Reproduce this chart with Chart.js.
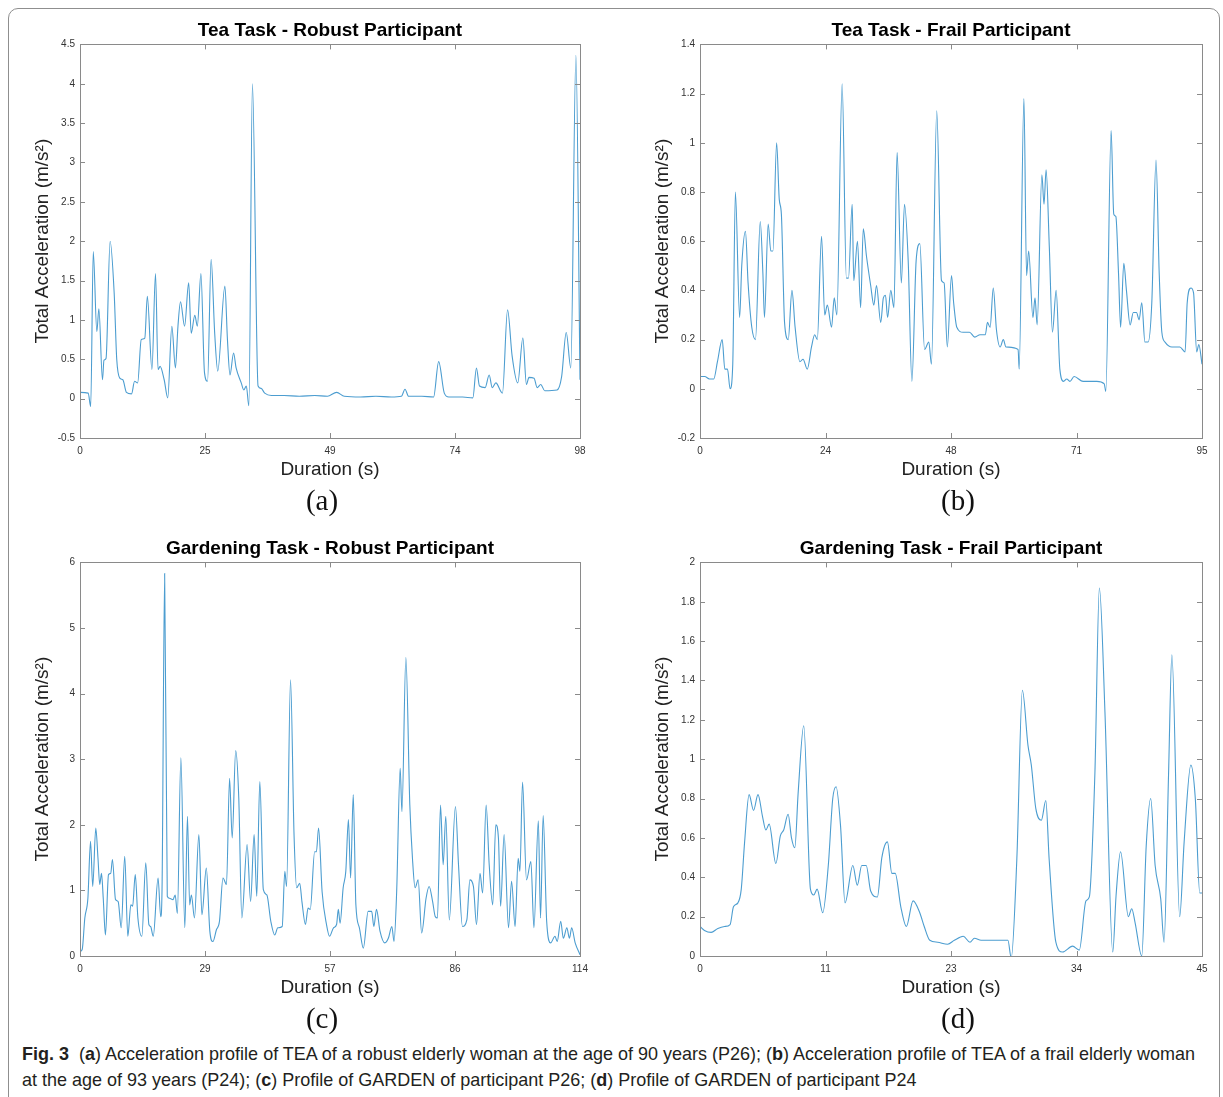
<!DOCTYPE html>
<html>
<head>
<meta charset="utf-8">
<script src="https://cdn.jsdelivr.net/npm/chart.js@4.4.1/dist/chart.umd.min.js"></script>
<style>
body{margin:0;background:#fff;width:1223px;height:1097px;position:relative;overflow:hidden;font-family:"Liberation Sans",Arial,sans-serif}
#frame{position:absolute;left:8px;top:8px;width:1212px;height:1110px;border:1.5px solid #8f8f8f;border-radius:10px;box-sizing:border-box}
canvas{position:absolute}
.lab{position:absolute;width:60px;margin-left:-30px;text-align:center;font-family:"Liberation Serif","DejaVu Serif",serif;font-size:29px;line-height:30px;color:#111}
.cap{position:absolute;left:22px;display:inline-block;white-space:nowrap;transform-origin:0 50%;font-family:"Liberation Sans",Arial,sans-serif;font-size:18.5px;color:#231f20}
</style>
</head>
<body>
<div id="frame"></div>
<canvas id="cA" width="600" height="480" style="left:0;top:10px"></canvas>
<canvas id="cB" width="602" height="480" style="left:620px;top:10px"></canvas>
<canvas id="cC" width="600" height="480" style="left:0;top:528px"></canvas>
<canvas id="cD" width="602" height="480" style="left:620px;top:528px"></canvas>
<div class="lab" style="left:322px;top:485px">(a)</div>
<div class="lab" style="left:958px;top:485px">(b)</div>
<div class="lab" style="left:322px;top:1003px">(c)</div>
<div class="lab" style="left:958px;top:1003px">(d)</div>
<div class="cap" id="cap1" style="top:1043px"><b>Fig. 3</b>&nbsp; (<b>a</b>) Acceleration profile of TEA of a robust elderly woman at the age of 90 years (P26); (<b>b</b>) Acceleration profile of TEA of a frail elderly woman</div>
<div class="cap" id="cap2" style="top:1069px">at the age of 93 years (P24); (<b>c</b>) Profile of GARDEN of participant P26; (<b>d</b>) Profile of GARDEN of participant P24</div>

<script>
// (a) tea task, robust participant
const timeA = [0,1.6,2.1,2.6,3.3,3.7,4.4,4.7,5.1,5.9,
  6.7,7.2,7.8,8.4,9.1,10.1,10.7,11.3,12.0,12.7,
  13.2,14.1,14.8,15.3,15.7,16.5,17.2,18.0,18.7,19.2,
  19.7,20.5,21.3,21.8,22.5,23.0,23.7,24.4,25.0,25.7,
  26.4,27.0,28.4,28.9,29.4,30.1,30.6,31.6,32.1,32.6,
  33.1,33.8,34.9,35.5,36.2,37.5,40,43,46,48.5,
  50.3,51.8,55,58,61,63,63.7,64.4,67,69.3,
  70.3,71.4,72.3,75,77.0,77.7,78.3,79.4,80.2,80.8,
  81.5,82.8,83.8,84.7,85.8,86.8,87.5,88.0,89.0,89.6,
  90.3,91.1,93.5,94.4,95.3,96.2,97.2,98.0];
const accA = [0.08,0.07,-0.1,1.87,0.85,1.14,0.24,0.49,0.51,2.0,
  1.34,0.5,0.26,0.24,0.08,0.06,0.22,0.2,0.75,0.77,
  1.3,0.37,1.59,0.37,0.41,0.24,0.01,0.92,0.39,0.92,
  1.23,0.92,1.47,0.83,1.06,0.92,1.59,0.33,0.22,1.77,
  0.83,0.35,1.43,0.75,0.3,0.58,0.39,0.2,0.11,0.16,
  -0.09,4.0,0.16,0.13,0.07,0.04,0.04,0.03,0.04,0.03,
  0.08,0.03,0.02,0.03,0.02,0.03,0.12,0.03,0.03,0.02,
  0.47,0.07,0.02,0.02,0.01,0.39,0.16,0.14,0.3,0.14,
  0.2,0.07,1.13,0.54,0.2,0.77,0.18,0.27,0.26,0.14,
  0.18,0.1,0.11,0.28,0.84,0.39,4.36,0.24];

// (b) tea task, frail participant
const timeB = [0,0.9,1.8,2.6,3.3,4.2,4.7,5.2,5.7,6.2,
  6.7,7.5,7.9,8.6,9.1,9.8,10.5,11.4,11.9,12.2,
  12.9,13.4,13.8,14.5,15.0,15.4,16.0,16.7,17.4,18.0,
  18.9,19.5,20.3,21.1,21.7,22.2,23.0,23.6,24.1,24.9,
  25.4,25.9,26.9,27.7,28.1,28.8,29.1,29.8,30.4,30.9,
  31.5,32.3,32.9,33.4,34.2,34.7,35.1,35.5,36.1,36.7,
  37.3,38.1,38.7,39.4,40.1,40.9,41.6,42.5,43.3,43.8,
  44.8,45.7,46.2,46.8,47.6,48.0,48.6,49.8,51.0,52.0,
  53.0,54.0,54.4,54.9,55.5,56.1,56.8,57.4,57.9,60.2,
  60.4,61.3,61.8,62.2,63.0,63.4,63.8,64.7,65.1,65.5,
  66.1,66.7,67.4,68.1,68.8,69.4,70.0,70.8,72.5,75.1,
  76.5,76.8,77.8,78.3,78.7,79.2,79.6,80.2,80.7,81.4,
  82.0,82.6,83.1,83.6,84.2,84.8,85.5,86.3,86.9,87.4,
  88.0,89.3,90.8,91.8,92.2,92.9,93.4,94.0,94.4,95.0];
const accB = [0.05,0.05,0.04,0.04,0.11,0.2,0.08,0.08,0.0,0.1,
  0.8,0.29,0.5,0.64,0.43,0.25,0.2,0.68,0.47,0.29,
  0.67,0.56,0.56,1.0,0.77,0.71,0.27,0.2,0.4,0.25,
  0.11,0.12,0.08,0.17,0.22,0.2,0.62,0.3,0.34,0.25,
  0.37,0.3,1.24,0.45,0.45,0.75,0.44,0.6,0.33,0.65,
  0.54,0.42,0.34,0.42,0.27,0.37,0.38,0.29,0.4,0.33,
  0.96,0.43,0.75,0.52,0.03,0.52,0.59,0.16,0.19,0.1,
  1.13,0.44,0.43,0.17,0.46,0.35,0.25,0.23,0.23,0.21,
  0.22,0.22,0.27,0.25,0.41,0.24,0.17,0.2,0.17,0.16,
  0.08,1.18,0.46,0.56,0.29,0.37,0.26,0.87,0.75,0.89,
  0.58,0.23,0.4,0.08,0.03,0.04,0.03,0.05,0.03,0.03,
  0.02,-0.01,1.05,0.71,0.7,0.47,0.25,0.51,0.4,0.26,
  0.31,0.31,0.28,0.35,0.19,0.19,0.35,0.93,0.47,0.23,
  0.19,0.17,0.17,0.15,0.35,0.41,0.39,0.15,0.18,0.1];

// (c) gardening task, robust participant
const timeC = [0,0.5,1.1,1.8,2.4,2.9,3.6,4.1,4.5,4.9,
  5.3,5.8,6.5,7.0,7.4,8.1,8.7,9.4,10.2,10.9,
  11.6,12.0,12.6,13.2,14.1,15.0,15.7,16.1,16.7,17.8,
  18.4,18.7,19.3,19.9,20.4,21.2,21.7,22.2,23.0,23.9,
  24.5,25.0,25.4,26.1,27.1,27.8,28.8,29.6,30.3,31.1,
  31.8,32.6,33.4,34.1,34.7,35.5,36.2,36.9,38.1,38.9,
  39.7,40.3,41.0,41.8,42.6,43.5,44.4,45.1,46.1,46.7,
  47.1,48.0,48.8,49.4,50.1,50.6,51.4,52.0,52.5,53.5,
  53.9,54.4,55.2,56.2,56.9,57.8,58.5,58.9,59.3,60.0,
  60.6,61.2,61.7,62.3,62.9,63.7,64.6,65.7,66.5,67.0,
  67.6,68.4,69.5,70.3,71.1,71.6,72.2,73.0,73.4,74.3,
  75.2,75.8,76.4,77.1,77.9,78.9,79.6,80.4,81.0,81.5,
  82.2,82.8,83.4,84.2,85.6,86.3,87.2,88.2,88.9,89.7,
  90.4,91.2,91.8,92.6,93.3,94.1,94.8,95.4,95.9,96.7,
  97.7,98.4,99.2,99.9,100.3,100.9,101.8,102.8,103.5,104.5,
  105.0,105.6,106.4,107.3,108.3,108.8,109.6,110.2,111.0,111.6,
  112.1,112.9,114.0];
const accC = [0.07,0.1,0.58,0.88,1.75,1.06,1.95,1.49,1.09,1.26,
  0.88,0.32,1.24,1.26,1.47,0.86,0.83,0.43,1.52,0.3,
  0.78,0.76,1.24,0.58,0.3,1.42,0.48,0.45,0.3,1.19,
  0.6,1.0,5.83,0.91,0.88,0.86,0.93,0.65,3.02,0.43,
  2.13,0.78,0.93,0.58,1.85,0.63,1.34,0.38,0.22,0.4,
  0.53,1.19,1.09,2.71,1.8,3.13,2.41,0.58,1.7,0.83,
  1.85,0.91,2.66,1.01,0.93,0.53,0.32,0.43,0.45,1.29,
  1.06,4.21,1.85,1.04,1.11,0.83,0.48,0.73,0.71,1.59,
  1.59,1.95,0.98,0.48,0.3,0.43,0.48,0.71,0.5,1.04,
  1.29,2.08,1.19,2.46,0.78,0.43,0.12,0.68,0.68,0.45,
  0.71,0.38,0.2,0.27,0.45,0.22,0.98,2.86,2.2,4.55,
  2.3,1.49,1.04,1.16,0.35,0.88,1.06,0.83,0.6,0.58,
  2.3,1.39,2.13,0.55,2.28,1.39,0.45,0.55,1.16,1.06,
  0.48,1.26,0.96,2.3,1.39,0.78,2.0,1.8,0.76,1.85,
  0.43,1.14,0.45,1.49,1.29,2.65,1.16,1.44,0.43,2.06,
  0.58,2.14,0.53,0.2,0.3,0.22,0.53,0.27,0.43,0.27,
  0.43,0.2,0.02];

// (d) gardening task, frail participant
const timeD = [0,0.4,1.0,1.6,2.2,2.7,3.0,3.4,3.7,4.0,
  4.4,4.8,5.2,5.6,5.9,6.2,6.8,7.2,7.5,7.9,
  8.2,8.5,8.8,9.3,9.9,10.2,10.5,11.0,11.5,11.9,
  12.2,12.6,13.0,13.7,14.1,14.5,14.9,15.3,15.9,16.3,
  16.8,17.2,17.5,18.0,18.5,19.1,19.7,20.1,20.6,21.3,
  22.2,22.8,23.6,24.2,24.6,25.2,26.1,27.6,27.9,28.4,
  28.9,29.4,29.7,30.1,30.6,31.0,31.3,31.9,32.5,33.4,
  34.0,34.6,34.9,35.4,35.8,36.3,37.0,37.3,37.7,38.4,
  38.7,39.0,39.6,40.0,40.4,40.8,41.3,41.6,42.0,42.3,
  43.0,43.4,44.0,44.4,44.8,45.0];
const accD = [0.15,0.13,0.12,0.14,0.15,0.16,0.25,0.27,0.34,0.58,
  0.82,0.74,0.82,0.71,0.64,0.67,0.47,0.61,0.64,0.72,
  0.6,0.55,0.83,1.17,0.34,0.31,0.34,0.22,0.46,0.8,
  0.86,0.66,0.27,0.46,0.36,0.46,0.46,0.33,0.3,0.5,
  0.58,0.42,0.42,0.25,0.15,0.28,0.22,0.15,0.08,0.07,
  0.06,0.08,0.1,0.07,0.09,0.08,0.08,0.08,-0.01,0.49,
  1.35,1.07,0.97,0.75,0.69,0.79,0.49,0.07,0.02,0.05,
  0.03,0.28,0.3,0.93,1.87,1.24,0.02,0.31,0.53,0.2,
  0.24,0.17,0.0,0.56,0.8,0.46,0.29,0.07,0.92,1.53,
  0.2,0.58,0.97,0.8,0.32,0.32];

const titles = ['Tea Task - Robust Participant', 'Tea Task - Frail Participant',
  'Gardening Task - Robust Participant', 'Gardening Task - Frail Participant'];
const durations = [98, 95, 114, 45];
const xLabelsA = ['0', '25', '49', '74', '98'];
const xLabelsB = ['0', '24', '48', '71', '95'];
const xLabelsC = ['0', '29', '57', '86', '114'];
const xLabelsD = ['0', '11', '23', '34', '45'];
const yTicksA = [-0.5, 0, 0.5, 1, 1.5, 2, 2.5, 3, 3.5, 4, 4.5];
const yTicksB = [-0.2, 0, 0.2, 0.4, 0.6, 0.8, 1, 1.2, 1.4];
const yTicksC = [0, 1, 2, 3, 4, 5, 6];
const yTicksD = [0, 0.2, 0.4, 0.6, 0.8, 1, 1.2, 1.4, 1.6, 1.8, 2];

const lineColor = '#4c9dd0';
const sans = '"Liberation Sans", Arial, sans-serif';

// matlab style box with inward ticks on all four sides, title centred over the axes
const boxPlugin = {
  id: 'matlabBox',
  afterDraw(chart, args, opts) {
    const ctx = chart.ctx;
    const a = chart.chartArea;
    const xs = chart.scales.x, ys = chart.scales.y;
    ctx.save();
    ctx.strokeStyle = '#8a8a8a';
    ctx.lineWidth = 1;
    ctx.strokeRect(Math.round(a.left) + 0.5, Math.round(a.top) + 0.5,
      Math.round(a.right) - Math.round(a.left), Math.round(a.bottom) - Math.round(a.top));
    ctx.beginPath();
    xs.ticks.forEach(t => {
      const px = Math.round(xs.getPixelForValue(t.value)) + 0.5;
      ctx.moveTo(px, a.bottom); ctx.lineTo(px, a.bottom - 5);
      ctx.moveTo(px, a.top); ctx.lineTo(px, a.top + 5);
    });
    ys.ticks.forEach(t => {
      const py = Math.round(ys.getPixelForValue(t.value)) + 0.5;
      ctx.moveTo(a.left, py); ctx.lineTo(a.left + 5, py);
      ctx.moveTo(a.right, py); ctx.lineTo(a.right - 5, py);
    });
    ctx.stroke();
    ctx.fillStyle = '#000';
    ctx.font = 'bold 19px ' + sans;
    ctx.textAlign = 'center';
    ctx.textBaseline = 'middle';
    ctx.fillText(opts.text, (a.left + a.right) / 2, a.top - 14);
    ctx.restore();
  }
};

function makeChart(id, title, times, acc, xMax, xLabels, yTicks) {
  const pts = times.map((t, i) => ({x: t, y: acc[i]}));
  return new Chart(document.getElementById(id), {
    type: 'line',
    data: {
      datasets: [{
        data: pts,
        borderColor: lineColor,
        borderWidth: 1.1,
        pointRadius: 0,
        fill: false,
        cubicInterpolationMode: 'monotone'
      }]
    },
    options: {
      responsive: false,
      animation: false,
      events: [],
      layout: {padding: {left: 28, right: 20, top: 34.4, bottom: 5}},
      plugins: {
        legend: {display: false},
        tooltip: {enabled: false},
        title: {display: false},
        matlabBox: {text: title}
      },
      scales: {
        x: {
          type: 'linear', min: 0, max: xMax,
          grid: {display: false, drawTicks: false},
          border: {display: false},
          afterBuildTicks: s => { s.ticks = xLabels.map((l, i) => ({value: xMax * i / 4})); },
          afterFit: s => { s.height = 47; },
          ticks: {
            autoSkip: false, maxRotation: 0, padding: 7, color: '#333',
            font: {family: sans, size: 10},
            callback: (v, i) => xLabels[i]
          },
          title: {display: true, text: 'Duration (s)', color: '#222',
            font: {family: sans, size: 19}}
        },
        y: {
          type: 'linear', min: yTicks[0], max: yTicks[yTicks.length - 1],
          grid: {display: false, drawTicks: false},
          border: {display: false},
          afterBuildTicks: s => { s.ticks = yTicks.map(v => ({value: v})); },
          afterFit: s => { s.width = 52; },
          ticks: {
            autoSkip: false, padding: 5, color: '#333',
            font: {family: sans, size: 10},
            callback: v => String(v)
          },
          title: {display: true, text: 'Total Acceleration (m/s²)', color: '#222',
            font: {family: sans, size: 19}, padding: {top: 3, bottom: 4}}
        }
      }
    },
    plugins: [boxPlugin]
  });
}

makeChart('cA', titles[0], timeA, accA, durations[0], xLabelsA, yTicksA);
makeChart('cB', titles[1], timeB, accB, durations[1], xLabelsB, yTicksB);
makeChart('cC', titles[2], timeC, accC, durations[2], xLabelsC, yTicksC);
makeChart('cD', titles[3], timeD, accD, durations[3], xLabelsD, yTicksD);

// squeeze the caption to the condensed width of the original
const cap1 = document.getElementById('cap1');
const cap2 = document.getElementById('cap2');
const squeeze = 1173 / cap1.getBoundingClientRect().width;
cap1.style.transform = 'scaleX(' + squeeze + ')';
cap2.style.transform = 'scaleX(' + squeeze + ')';
</script>
</body>
</html>
